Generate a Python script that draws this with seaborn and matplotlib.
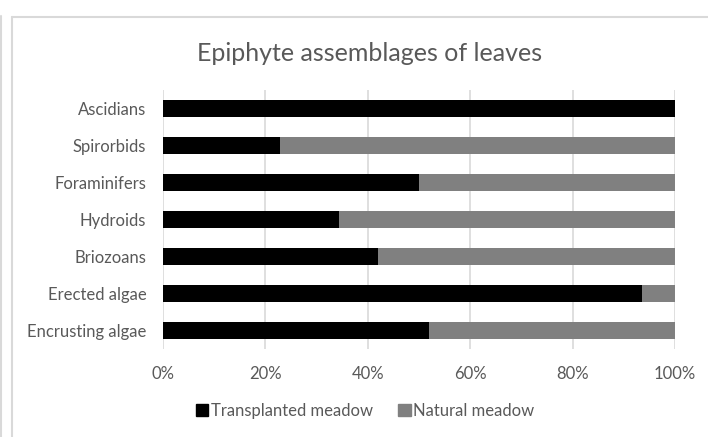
import matplotlib
matplotlib.use("Agg")
import matplotlib.pyplot as plt
from matplotlib.lines import Line2D
from matplotlib.ticker import PercentFormatter
import seaborn as sns
import pandas as pd

# Share of each epiphyte group found on leaves, by meadow type (percent)
categories = ["Ascidians", "Spirorbids", "Foraminifers", "Hydroids",
              "Briozoans", "Erected algae", "Encrusting algae"]
transplanted = [100.0, 22.8, 50.0, 34.3, 41.9, 93.6, 52.0]
natural = [0.0, 77.2, 50.0, 65.7, 58.1, 6.4, 48.0]
x_ticks = [0, 20, 40, 60, 80, 100]

df = pd.DataFrame({"group": categories,
                   "Transplanted meadow": transplanted,
                   "Natural meadow": natural})
df["stack_end"] = df["Transplanted meadow"] + df["Natural meadow"]

sns.set_theme(style="white")
plt.rcParams["font.family"] = ["Lato", "DejaVu Sans"]

text_grey = "#595959"
grid_grey = "#d9d9d9"
black = "#000000"
grey = "#808080"

W, H = 708, 437
fig = plt.figure(figsize=(W / 100, H / 100), dpi=100)
ax = fig.add_axes([163 / W, 1 - 349 / H, 512 / W, 259 / H])

# stacked bars: natural segment drawn to the stack end, transplanted over it
sns.barplot(data=df, y="group", x="stack_end", orient="h", color=grey,
            saturation=1, width=0.44, ax=ax, zorder=2, linewidth=0)
sns.barplot(data=df, y="group", x="Transplanted meadow", orient="h", color=black,
            saturation=1, width=0.44, ax=ax, zorder=3, linewidth=0)

ax.set_xlim(0, 100)
ax.set_ylim(len(categories) - 0.5, -0.5)
ax.set_xticks(x_ticks)
ax.xaxis.set_major_formatter(PercentFormatter(decimals=0))
ax.set_xlabel("")
ax.set_ylabel("")
ax.grid(axis="x", color=grid_grey, linewidth=1.2, zorder=0)
ax.set_axisbelow(True)
for s in ax.spines.values():
    s.set_visible(False)
ax.tick_params(axis="both", length=0, labelsize=12, colors=text_grey)
ax.tick_params(axis="x", pad=12)
ax.tick_params(axis="y", pad=12)

fig.text(370 / W, 1 - 61 / H, "Epiphyte assemblages of leaves",
         ha="center", va="baseline", fontsize=18, color=text_grey)

handles = [plt.Rectangle((0, 0), 1, 1, color=black),
           plt.Rectangle((0, 0), 1, 1, color=grey)]
fig.legend(handles, ["Transplanted meadow", "Natural meadow"],
           loc="center", bbox_to_anchor=(365 / W, 1 - 411 / H), ncol=2,
           frameon=False, fontsize=12, labelcolor=text_grey,
           handlelength=0.75, handleheight=0.75, handletextpad=0.15,
           columnspacing=1.55)

# chart frame edges
fig.add_artist(Line2D([12 / W, 12 / W], [0, 1 - 17 / H], color=grid_grey,
                      linewidth=1.5, transform=fig.transFigure))
fig.add_artist(Line2D([12 / W, 1], [1 - 17 / H, 1 - 17 / H], color=grid_grey,
                      linewidth=1.5, transform=fig.transFigure))
fig.add_artist(Line2D([1 / W, 1 / W], [0, 1 - 16 / H], color=grid_grey,
                      linewidth=1.5, transform=fig.transFigure))

fig.savefig("out.png", dpi=100)
